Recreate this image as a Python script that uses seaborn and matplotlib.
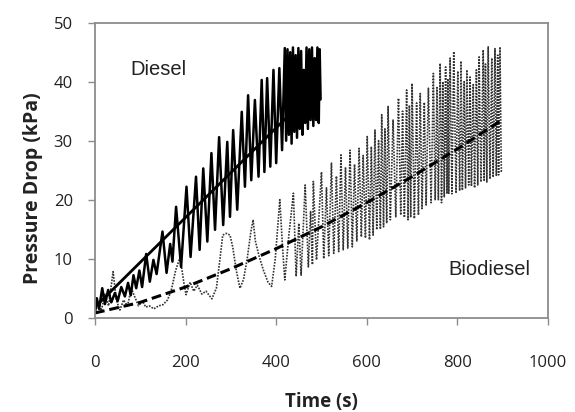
import matplotlib
matplotlib.use("Agg")
import matplotlib.pyplot as plt
import pandas as pd
import seaborn as sns

# diesel run: alternating trough / peak readings (s, kPa)
diesel_time = [0, 4, 9, 16, 22, 29, 36, 44, 50, 58, 66, 73, 79, 85, 91, 98, 104, 113, 121, 129,
               136, 149, 158, 166, 171, 179, 190, 202, 211, 223, 231, 239, 248, 257, 265, 274,
               283, 292, 298, 305, 314, 324, 331, 338, 345, 353, 361, 368, 374, 380, 387, 394,
               400, 407, 413, 419, 422, 425, 428, 431, 434, 437, 440, 443, 446, 449, 452, 455,
               458, 461, 464, 467, 470, 473, 476, 479, 482, 485, 488, 491, 494, 496, 498]
diesel_kpa = [0.8, 3.3, 1.5, 5.0, 2.3, 4.7, 2.6, 4.2, 2.8, 5.2, 3.6, 5.9, 3.8, 7.2, 5.0, 8.0, 5.2,
              10.8, 6.1, 9.8, 7.4, 14.6, 7.6, 12.5, 9.5, 18.8, 8.6, 22.2, 10.3, 23.9, 11.5, 25.3,
              12.9, 27.9, 14.9, 30.6, 15.7, 29.8, 17.1, 31.8, 18.3, 34.9, 22.2, 37.7, 23.3, 36.9,
              23.9, 40.3, 24.7, 40.6, 25.6, 42.0, 26.2, 42.3, 28.4, 45.7, 30.0, 45.5, 31.0, 45.0,
              29.5, 45.8, 31.5, 44.5, 30.5, 45.7, 32.0, 45.2, 31.0, 42.0, 33.0, 45.8, 32.0, 45.5,
              33.5, 45.8, 32.5, 44.0, 33.5, 45.8, 33.0, 45.5, 37.0]

# biodiesel run
biodiesel_time = [0, 8, 14, 22, 30, 40, 47, 55, 63, 72, 80, 88, 96, 105, 112, 120, 130, 140, 150,
                  160, 168, 178, 188, 196, 201, 210, 218, 226, 236, 245, 258, 268, 276, 282, 290,
                  298, 304, 312, 320, 328, 336, 344, 349, 354, 362, 372, 382, 390, 398, 408, 414,
                  419, 428, 438, 444, 450, 455, 464, 471, 476, 480, 482, 489, 500,
                  505, 511, 516, 522, 527, 533, 538, 543, 548, 553, 558, 563, 568, 573, 578, 583,
                  588, 592, 597, 601, 606, 610, 614, 618, 622, 626, 630, 633, 637, 640, 644, 647,
                  652, 658, 664, 670, 675, 679, 683, 688, 691, 694, 697, 700, 705, 710, 714, 718,
                  722, 727, 731, 736, 742, 747, 751, 755, 758, 762, 765, 768, 771, 774, 777, 779,
                  781, 784, 788, 792, 797, 801, 805, 808, 811, 815, 818, 821, 825, 828, 831, 835,
                  838, 842, 845, 848, 852, 857, 859, 862, 865, 868, 872, 876, 879, 883, 886, 889,
                  891, 894, 897, 900]
biodiesel_kpa = [1.0, 2.5, 1.2, 4.0, 2.0, 7.8, 3.0, 1.3, 3.0, 2.0, 5.0, 3.5, 2.0, 2.8, 1.8, 2.0,
                 1.5, 2.0, 2.2, 3.0, 4.5, 8.0, 10.3, 6.0, 3.9, 6.0, 4.5, 5.5, 4.0, 4.5, 3.2, 5.0,
                 10.0, 14.0, 14.3, 14.0, 12.0, 8.0, 5.0, 6.5, 10.0, 14.5, 16.6, 13.0, 10.5, 8.0,
                 6.0, 5.3, 10.0, 20.0, 12.0, 6.4, 14.0, 21.1, 7.0, 16.0, 7.2, 22.5, 8.6, 18.0,
                 9.0, 23.1, 9.8, 24.7,
                 10.0, 22.0, 10.5, 26.2, 10.9, 24.0, 11.2, 27.6, 11.5, 25.5, 11.8, 28.4, 12.0,
                 26.0, 13.0, 28.7, 13.7, 27.5, 13.5, 30.7, 13.2, 29.0, 14.0, 31.8, 14.9, 30.0,
                 15.0, 34.4, 15.4, 32.0, 16.0, 35.8, 16.6, 33.5, 17.0, 37.2, 17.4, 35.0, 17.0,
                 38.6, 16.6, 36.0, 17.0, 39.7, 16.8, 36.4, 17.4, 38.0, 18.5, 36.5, 19.1, 38.9,
                 19.5, 41.4, 19.9, 39.0, 20.0, 43.1, 19.5, 40.0, 20.5, 42.5, 21.0, 40.5, 21.1,
                 44.0, 21.0, 45.1, 21.1, 41.8, 21.5, 43.5, 21.6, 40.0, 22.0, 42.0, 22.5, 40.8,
                 22.3, 39.5, 22.0, 42.0, 22.5, 44.2, 23.0, 45.4, 23.3, 43.0, 23.0, 45.9, 23.5,
                 44.0, 23.8, 45.6, 24.0, 44.5, 24.2, 45.9, 24.8, 25.0]

# trend lines
diesel_trend_time = [0, 495]
diesel_trend_kpa = [1.8, 39.4]
bio_trend_time = [0, 100, 200, 300, 400, 500, 600, 700, 800, 900]
bio_trend_kpa = [0.8, 2.6, 5.2, 8.3, 11.7, 15.4, 19.5, 23.9, 28.6, 33.6]

sns.set_style("white")
plt.rcParams["font.family"] = ["Open Sans", "DejaVu Sans"]

diesel = pd.DataFrame({"time": diesel_time, "kpa": diesel_kpa})
bio = pd.DataFrame({"time": biodiesel_time, "kpa": biodiesel_kpa})
dtrend = pd.DataFrame({"time": diesel_trend_time, "kpa": diesel_trend_kpa})
btrend = pd.DataFrame({"time": bio_trend_time, "kpa": bio_trend_kpa})

fig = plt.figure(figsize=(5.75, 4.12), dpi=100)
ax = fig.add_axes([0.1652, 0.2289, 0.7878, 0.716])

sns.lineplot(data=bio, x="time", y="kpa", ax=ax, estimator=None, sort=False,
             color="#333333", linewidth=1.2, linestyle=(0, (1, 0.8)))
sns.lineplot(data=diesel, x="time", y="kpa", ax=ax, estimator=None, sort=False,
             color="black", linewidth=1.8)
sns.lineplot(data=dtrend, x="time", y="kpa", ax=ax, estimator=None, sort=False,
             color="black", linewidth=2.0)
sns.lineplot(data=btrend, x="time", y="kpa", ax=ax, estimator=None, sort=False,
             color="black", linewidth=2.2, linestyle=(0, (3.2, 1.6)))

ax.set_xlim(0, 1000)
ax.set_ylim(0, 50)
ax.set_xticks([0, 200, 400, 600, 800, 1000])
ax.set_yticks([0, 10, 20, 30, 40, 50])

for s in ax.spines.values():
    s.set_color("#8c8c8c")
    s.set_linewidth(1.3)

ax.tick_params(axis="x", direction="out", length=5, width=1, color="#8c8c8c",
               pad=22, labelsize=12, labelcolor="#222222", bottom=True)
ax.tick_params(axis="y", direction="out", length=5, width=1, color="#8c8c8c",
               pad=11, labelsize=12, labelcolor="#222222", left=True)

ax.set_xlabel("Time (s)", fontsize=13.5, fontweight="bold", color="#222222", labelpad=15)
ax.set_ylabel("Pressure Drop (kPa)", fontsize=14, fontweight="bold", color="#222222")
ax.yaxis.set_label_coords(-0.115, 0.44)

ax.text(139, 42, "Diesel", fontsize=14.5, family=["Liberation Sans"], ha="center", va="center",
        color="#222222")
ax.text(870, 8.1, "Biodiesel", fontsize=14.5, family=["Liberation Sans"], ha="center", va="center",
        color="#222222")

fig.savefig("out.png", dpi=100)
